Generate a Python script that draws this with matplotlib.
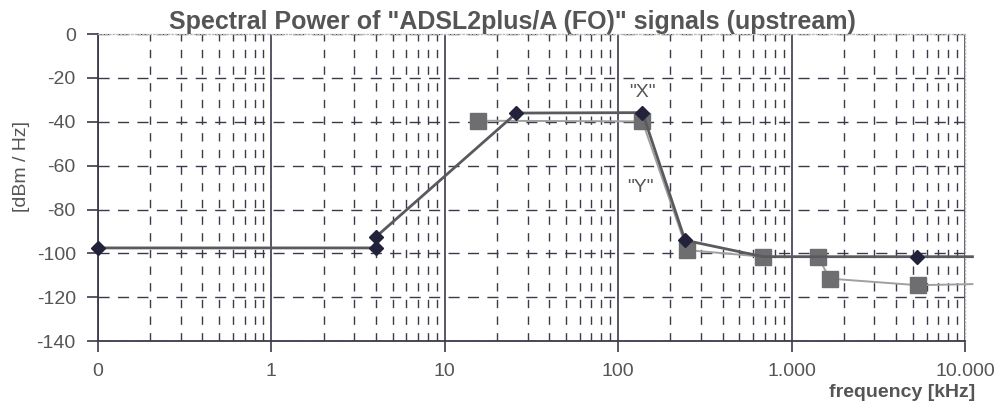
import numpy as np
import matplotlib
matplotlib.use('Agg')
import matplotlib.pyplot as plt
from matplotlib.ticker import LogLocator, FixedLocator, NullFormatter

plt.rcParams['font.family'] = ['Liberation Sans', 'DejaVu Sans']
plt.rcParams['axes.unicode_minus'] = False

# PSD mask "X" (dark diamonds)
freq_x = [0.1, 4, 4, 25.875, 138, 243, 686, 5275, 11040]
psd_x = [-97.5, -97.5, -92.5, -36, -35.8, -94, -101.5, -101.5, -101.5]

# PSD mask "Y" (grey squares)
freq_y = [15.5, 138, 250, 686, 1420, 1660, 5350, 11040]
psd_y = [-39.5, -39.8, -98.5, -101.5, -101.5, -111.5, -114.5, -114]

xticks = [0.1, 1, 10, 100, 1000, 10000]
xtick_labels = ['0', '1', '10', '100', '1.000', '10.000']
yticks = [0, -20, -40, -60, -80, -100, -120, -140]

txt = '#555555'
grid_c = '#3a3a4a'

fig = plt.figure(figsize=(10, 4.11), dpi=100)
ax = fig.add_axes([0.098, 0.170, 0.867, 0.747])

ax.set_xscale('log')
ax.set_xlim(0.1, 10000)
ax.set_ylim(-140, 0)

ax.xaxis.set_major_locator(FixedLocator(xticks))
ax.set_xticklabels(xtick_labels)
ax.xaxis.set_minor_locator(LogLocator(base=10, subs=np.arange(2, 10)))
ax.xaxis.set_minor_formatter(NullFormatter())
ax.set_yticks(yticks)

# grid: solid at decades, dashed elsewhere
ax.grid(which='major', axis='x', color=grid_c, lw=1.2, ls='-')
ax.grid(which='minor', axis='x', color=grid_c, lw=1.0, ls=(0, (6, 6)))
ax.grid(which='major', axis='y', color=grid_c, lw=1.0, ls=(0, (8, 6)))
ax.set_axisbelow(True)

ax.tick_params(axis='both', which='major', length=8, width=1.2, color=grid_c,
               labelsize=14, labelcolor=txt, pad=8)
ax.tick_params(axis='x', which='minor', length=0)

for side in ['left', 'bottom']:
    ax.spines[side].set_color(grid_c)
    ax.spines[side].set_linewidth(1.3)
for side in ['top', 'right']:
    ax.spines[side].set_color('#bbbbbb')
    ax.spines[side].set_linestyle(':')
    ax.spines[side].set_linewidth(1.0)

# series
ax.plot(freq_y, psd_y, color='#a0a0a0', lw=1.4, marker='s', markersize=11,
        markerfacecolor='#6e6e70', markeredgecolor='#6e6e70',
        markevery=list(range(len(freq_y) - 1)), clip_on=False, zorder=3)
ax.plot(freq_x, psd_x, color='#5a5a5e', lw=2.0, marker='D', markersize=7,
        markerfacecolor='#22223a', markeredgecolor='#22223a',
        markevery=[0, 1, 2, 3, 4, 5, 7], clip_on=False, zorder=4)

ax.text(138, -26.5, '"X"', ha='center', va='center', fontsize=14, color=txt)
ax.text(134, -70, '"Y"', ha='center', va='center', fontsize=14, color=txt)

ax.set_title('Spectral Power of "ADSL2plus/A (FO)" signals (upstream)',
             fontsize=18, fontweight='bold', color=txt, pad=1, x=0.478)
ax.set_ylabel('[dBm / Hz]', fontsize=14, color=txt)
ax.yaxis.set_label_coords(-0.079, 0.57)
fig.text(0.975, 0.025, 'frequency [kHz]', ha='right', va='bottom', fontsize=14,
         fontweight='bold', color=txt)

fig.savefig('out.png', dpi=100, facecolor='white')
